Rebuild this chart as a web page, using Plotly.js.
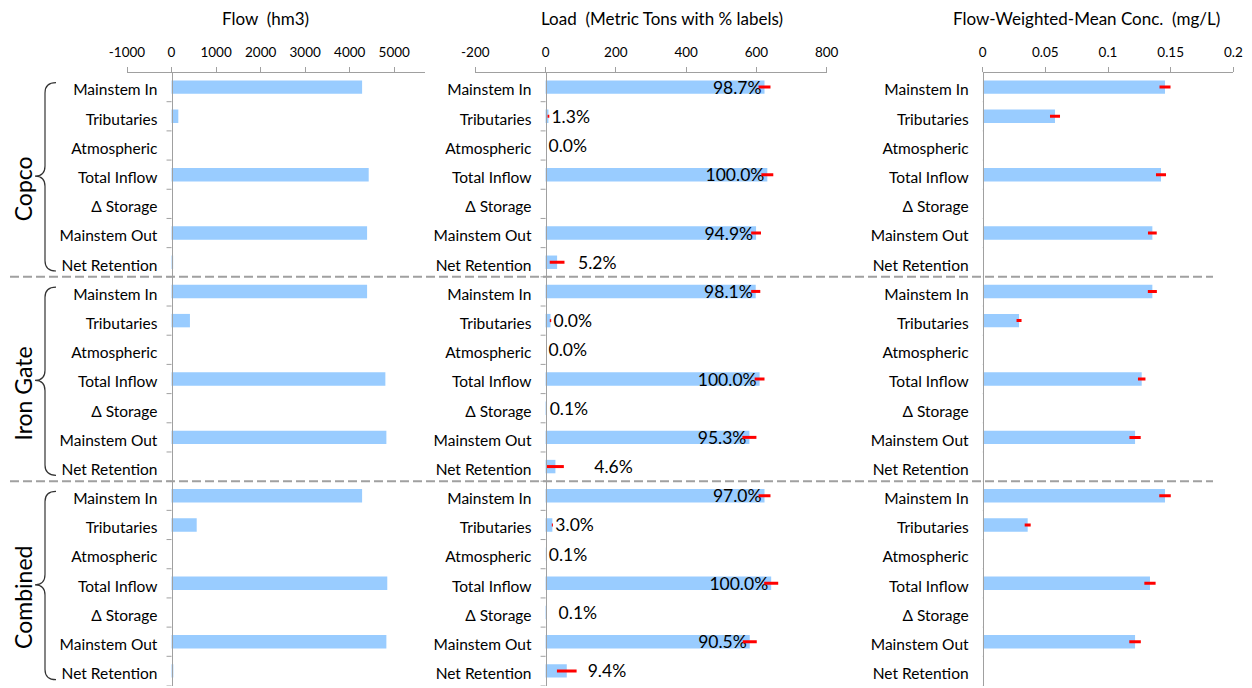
<!DOCTYPE html>
<html>
<head>
<meta charset="utf-8">
<script src="https://cdn.plot.ly/plotly-3.0.1.min.js"></script>
<style>html,body{margin:0;padding:0;background:#fff;}#chart{width:1252px;height:688px;}</style>
</head>
<body>
<div id="chart"></div>
<script>
// ---------- DATA ----------
const groups = ['Copco', 'Iron Gate', 'Combined'];
const categories = ['Mainstem In', 'Tributaries', 'Atmospheric', 'Total Inflow', 'Δ Storage', 'Mainstem Out', 'Net Retention'];

// Flow (hm3)
const flowCopco    = [4278, 152, 0, 4426, 0, 4390, 36];
const flowIronGate = [4390, 413, 0, 4800, 0, 4823, 0];
const flowCombined = [4278, 565, 0, 4843, 0, 4823, 40];

// Load (metric tons)
const loadCopco    = [623, 8.2, 0, 631, 0, 599, 32.8];
const loadIronGate = [598, 14, 0, 609, 3, 580, 28];
const loadCombined = [623, 19.3, 0.6, 642, 3, 581, 60.3];
const loadErrCopco    = [17, 2.5, 0, 17, 0, 14, 21];
const loadErrIronGate = [13, 2, 0, 14, 0, 20, 24];
const loadErrCombined = [17, 1.5, 0, 20, 0, 20, 28];
const loadPctCopco    = ['98.7%', '1.3%', '0.0%', '100.0%', '', '94.9%', '5.2%'];
const loadPctIronGate = ['98.1%', '0.0%', '0.0%', '100.0%', '0.1%', '95.3%', '4.6%'];
const loadPctCombined = ['97.0%', '3.0%', '0.1%', '100.0%', '0.1%', '90.5%', '9.4%'];

// Flow-weighted-mean concentration (mg/L)
const concCopco    = [0.1455, 0.0577, 0, 0.1423, 0, 0.1354, 0];
const concIronGate = [0.1354, 0.0290, 0, 0.1269, 0, 0.1216, 0];
const concCombined = [0.1455, 0.0359, 0, 0.1335, 0, 0.1216, 0];
const concErrCopco    = [0.0044, 0.0040, 0, 0.0040, 0, 0.0035, 0];
const concErrIronGate = [0.0036, 0.0020, 0, 0.0030, 0, 0.0045, 0];
const concErrCombined = [0.0046, 0.0024, 0, 0.0045, 0, 0.0046, 0];

// Tick labels
const flowTicks = [-1000, 0, 1000, 2000, 3000, 4000, 5000];
const loadTicks = [-200, 0, 200, 400, 600, 800];
const concTicks = [0, 0.05, 0.1, 0.15, 0.2];
const concTickText = ['0', '0.05', '0.1', '0.15', '0.2'];

const panelTitles = ['Flow\u00A0 (hm3)', 'Load\u00A0 (Metric Tons with % labels)', 'Flow-Weighted-Mean Conc.\u00A0 (mg/L)'];

// ---------- STYLE ----------
const W = 1252, H = 688;
const FONT = 'Lato, "Open Sans", sans-serif';
const BAR = '#99CCFF';
const GREY = '#A0A0A0';
const px = p => p / W;
const py = p => 1 - p / H;
const LABEL_DROP = 0.1; // category labels sit slightly below the bar centre
// extra leading spacing (nbsp count) for a few outside labels
const labelPadCopco = [0, 0, 0, 0, 0, 0, 4];
const labelPadIronGate = [0, 0, 0, 0, 0, 0, 8];
const labelPadCombined = [0, 0, 0, 0, 2, 0, 4];

// ---------- BUILD ----------
const nCat = categories.length;
const rows = [];
groups.forEach((g, gi) => categories.forEach((c, ci) => rows.push(gi * nCat + ci)));
const rowText = groups.flatMap(() => categories);
const nRows = rows.length;

const yDomain = [py(685.5), py(72.5)];
const yRange = [nRows - 0.5, -0.5];

const flowVals = [].concat(flowCopco, flowIronGate, flowCombined);
const loadVals = [].concat(loadCopco, loadIronGate, loadCombined);
const loadErrs = [].concat(loadErrCopco, loadErrIronGate, loadErrCombined);
const loadPct = [].concat(loadPctCopco, loadPctIronGate, loadPctCombined);
const loadPad = [].concat(labelPadCopco, labelPadIronGate, labelPadCombined);
const concVals = [].concat(concCopco, concIronGate, concCombined);
const concErrs = [].concat(concErrCopco, concErrIronGate, concErrCombined);

const loadText = loadPct.map((t, i) => t ? '\u00A0'.repeat(loadPad[i]) + t : '');
const loadPos = loadVals.map(v => v > 300 ? 'inside' : 'outside');

const errStyle = {type: 'data', symmetric: true, color: '#FF0000', thickness: 3, width: 0};

const traces = [
  {type: 'bar', orientation: 'h', x: flowVals, y: rows, xaxis: 'x', yaxis: 'y',
   marker: {color: BAR}, width: 0.46, hoverinfo: 'skip'},
  {type: 'bar', orientation: 'h', x: loadVals, y: rows, xaxis: 'x2', yaxis: 'y2',
   marker: {color: BAR}, width: 0.46, hoverinfo: 'skip',
   error_x: Object.assign({array: loadErrs}, errStyle),
   text: loadText, textposition: loadPos, insidetextanchor: 'end', constraintext: 'none',
   textfont: {family: FONT, size: 17.5, color: '#000'}, cliponaxis: false},
  {type: 'bar', orientation: 'h', x: concVals, y: rows, xaxis: 'x3', yaxis: 'y3',
   marker: {color: BAR}, width: 0.46, hoverinfo: 'skip',
   error_x: Object.assign({array: concErrs}, errStyle)}
];

const xDomains = [[px(127), px(425)], [px(475.3), px(826.7)], [px(982.7), px(1233.3)]];
const xRanges = [[-1000, 5690], [-200, 800], [0, 0.2]];
const xTicks = [flowTicks, loadTicks, concTicks];
const xTickText = [flowTicks.map(String), loadTicks.map(String), concTickText];

const zeroPos = (dom, r) => dom[0] + (0 - r[0]) / (r[1] - r[0]) * (dom[1] - dom[0]);

const layout = {
  width: W, height: H, margin: {l: 0, r: 0, t: 0, b: 0},
  paper_bgcolor: '#fff', plot_bgcolor: 'rgba(0,0,0,0)',
  showlegend: false, hovermode: false,
  font: {family: FONT, color: '#000'},
  shapes: [], annotations: []
};

for (let p = 0; p < 3; p++) {
  const sfx = p === 0 ? '' : String(p + 1);
  layout['xaxis' + sfx] = {
    domain: xDomains[p], range: xRanges[p], side: 'top', anchor: 'y' + sfx,
    tickmode: 'array', tickvals: xTicks[p], ticktext: xTickText[p],
    ticks: 'outside', ticklen: 5, tickcolor: GREY, tickwidth: 1,
    showline: true, linecolor: GREY, linewidth: 1,
    showgrid: false, zeroline: false, fixedrange: true,
    tickfont: {family: FONT, size: 13.5, color: '#000'}, ticklabelstandoff: 4
  };
  layout['yaxis' + sfx] = {
    domain: yDomain, range: yRange, anchor: 'free',
    position: zeroPos(xDomains[p], xRanges[p]),
    tickmode: 'array', tickvals: rows.map(r => r + LABEL_DROP), ticktext: rowText, ticks: '',
    showline: true, linecolor: GREY, linewidth: 1,
    showgrid: false, zeroline: false, fixedrange: true,
    tickfont: {family: FONT, size: 15.5, color: '#000'}, ticklabelstandoff: 11
  };
  // boundary tick marks between category rows, left of the zero line
  for (let b = 0; b <= nRows; b++) {
    layout.shapes.push({type: 'line', xref: 'x' + sfx, yref: 'y' + sfx,
      xsizemode: 'pixel', xanchor: 0, x0: -5, x1: 0, y0: b - 0.5, y1: b - 0.5,
      line: {color: GREY, width: 1}});
  }
  layout.annotations.push({
    xref: 'paper', yref: 'paper', x: px([265, 662, 1086][p]), y: py(18),
    text: panelTitles[p], showarrow: false, xanchor: 'center', yanchor: 'middle',
    font: {family: FONT, size: 17, color: '#000'}
  });
}

// group separators, braces and group labels
groups.forEach((g, gi) => {
  const top = gi * nCat - 0.5;
  if (gi > 0) {
    layout.shapes.push({type: 'line', xref: 'paper', yref: 'y', x0: px(10), x1: px(1213), y0: top, y1: top,
      line: {color: GREY, width: 2, dash: '9px,4px'}});
  }
  const yt = gi * nCat - 0.15, yb = gi * nCat + nCat - 0.7, ym = gi * nCat + 3.05;
  const xe = px(56), xv = px(45), xp = px(35), d = 0.35;
  const path = `M ${xe},${yt} Q ${xv},${yt} ${xv},${yt + d} L ${xv},${ym - d} Q ${xv},${ym} ${xp},${ym} ` +
               `Q ${xv},${ym} ${xv},${ym + d} L ${xv},${yb - d} Q ${xv},${yb} ${xe},${yb}`;
  layout.shapes.push({type: 'path', xref: 'paper', yref: 'y', path: path, line: {color: '#333', width: 1.2}});
  layout.annotations.push({
    xref: 'paper', yref: 'y', x: px(23), y: gi * nCat + 3.5, text: g, textangle: -90,
    showarrow: false, xanchor: 'center', yanchor: 'middle',
    font: {family: FONT, size: 23, color: '#000'}
  });
});

Plotly.newPlot('chart', traces, layout, {staticPlot: true, displayModeBar: false});
</script>
</body>
</html>
